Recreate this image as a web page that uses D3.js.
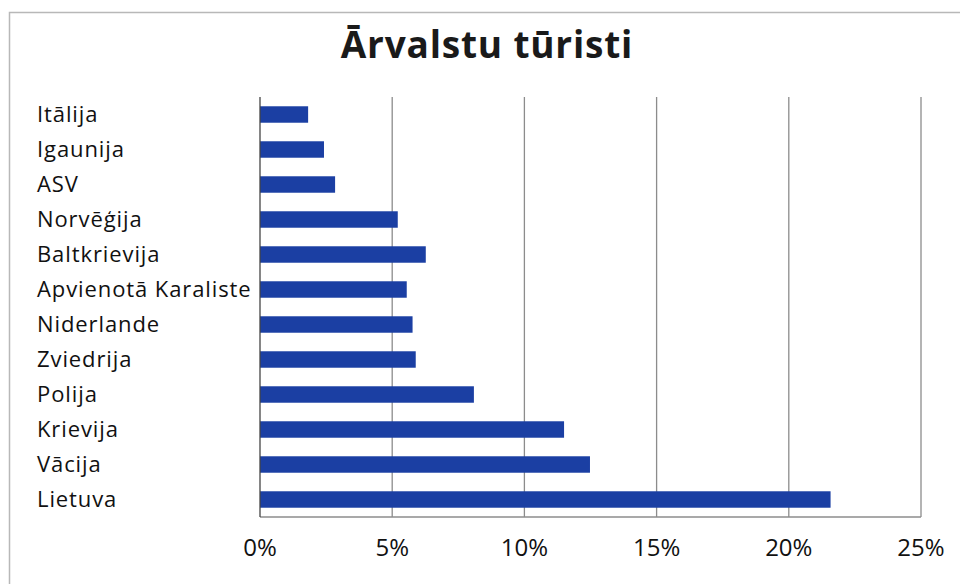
<!DOCTYPE html>
<html><head><meta charset="utf-8">
<script src="https://cdn.jsdelivr.net/npm/d3@7"></script>
<style>body{margin:0;background:#fff}svg{display:block}</style>
</head><body>
<svg id="c" width="960" height="584"></svg>
<script>
const title = "Ārvalstu tūristi";
const categories = ["Itālija","Igaunija","ASV","Norvēģija","Baltkrievija","Apvienotā Karaliste","Niderlande","Zviedrija","Polija","Krievija","Vācija","Lietuva"];
const values = [1.82,2.42,2.84,5.21,6.27,5.55,5.77,5.89,8.09,11.5,12.48,21.58];
const ticks = [0,5,10,15,20,25];

(function(){
const svg = d3.select("#c");
const font = "'Open Sans', sans-serif";
const pL = 260, pR = 921, pT = 97, pB = 517;

svg.append("rect").attr("x",9.5).attr("y",12.5).attr("width",1000).attr("height",1000)
  .attr("fill","none").attr("stroke","#b8b8b8").attr("stroke-width",1.5);

const x = d3.scaleLinear().domain([0,25]).range([pL,pR]);
const y = d3.scaleBand().domain(categories).range([pT,pB]).paddingInner(0.53).paddingOuter(0.265);

svg.append("g").selectAll("line").data(ticks.slice(1)).join("line")
  .attr("x1",d=>x(d)).attr("x2",d=>x(d)).attr("y1",pT).attr("y2",pB)
  .attr("stroke","#8c8c8c").attr("stroke-width",1.3);
svg.append("line").attr("x1",pL).attr("x2",pR).attr("y1",pB).attr("y2",pB)
  .attr("stroke","#8c8c8c").attr("stroke-width",1.5);

svg.append("g").selectAll("rect").data(categories).join("rect")
  .attr("x",x(0)).attr("y",d=>y(d)).attr("height",y.bandwidth())
  .attr("width",(d,i)=>x(values[i])-x(0)).attr("fill","#1b3fa3");

svg.append("line").attr("x1",pL).attr("x2",pL).attr("y1",pT).attr("y2",pB)
  .attr("stroke","#444").attr("stroke-width",1.3);

svg.append("g").selectAll("text").data(categories).join("text")
  .attr("x",37).attr("y",d=>y(d)+y.bandwidth()/2).attr("dy","0.36em")
  .attr("font-family",font).attr("font-size",22)
  .attr("letter-spacing","0.9px").attr("fill","#111").text(d=>d);

svg.append("g").selectAll("text").data(ticks).join("text")
  .attr("x",d=>x(d)).attr("y",556).attr("text-anchor","middle")
  .attr("font-family",font).attr("font-size",24).attr("fill","#111").text(d=>d+"%");

svg.append("text").attr("x",487).attr("y",58).attr("text-anchor","middle")
  .attr("font-family",font).attr("font-weight","bold").attr("font-size",37)
  .attr("letter-spacing","0.8px").attr("fill","#1a1a1a").text(title);
})();
</script>
</body></html>
